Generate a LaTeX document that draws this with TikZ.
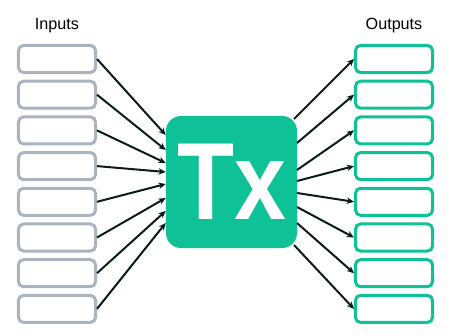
\documentclass[tikz,border=0pt]{standalone}
\usepackage{fontspec}
\setmainfont{Liberation Sans}
\usetikzlibrary{calc, arrows.meta, positioning}

\definecolor{txgreen}{HTML}{0FC196}
\definecolor{boxgray}{HTML}{A9B4BE}
\definecolor{arrowdark}{HTML}{0A1C18}

\tikzset{
  inbox/.style={draw=boxgray, line width=0.075cm, rounded corners=0.125cm,
    minimum width=1.925cm, minimum height=0.675cm, inner sep=0pt},
  outbox/.style={inbox, draw=txgreen},
  txbox/.style={fill=txgreen, rounded corners=0.375cm,
    minimum width=3.275cm, minimum height=3.3cm, inner sep=0pt,
    text=white, font=\fontsize{78}{78}\selectfont\bfseries},
  flow/.style={draw=arrowdark, line width=0.05cm, -{Stealth[length=0.18cm, width=0.16cm]}},
  head/.style={font=\fontsize{11.5}{13}\selectfont}
}

\begin{document}
\begin{tikzpicture}[x=0.025cm, y=-0.025cm]
      \useasboundingbox (0, 0) rectangle (450, 336);
      % the transaction
      \node[txbox] (tx) at (231.5, 182) {\scalebox{0.85}[1]{Tx}};
      \node[head] (inlabel) at (57, 25.5) {Inputs};
      \node[head] (outlabel) at (394, 25.5) {Outputs};
      % boxes on both sides
      \foreach \i in {1,...,8} {
        \node[inbox] (in\i) at (57, {59 + 35.7*(\i-1)}) {};
        \node[outbox] (out\i) at (394, {59 + 35.7*(\i-1)}) {};
      }
      % inputs into tx
      \foreach \i/\y in {1/135, 2/150, 3/163, 4/172, 5/184, 6/198, 7/211, 8/223} {
        \coordinate (tin\i) at (tx.west |- 0,\y);
        \draw[flow] (in\i.east) -- (tin\i);
      }
      % tx into outputs
      \foreach \i/\x/\y in {1/294/119, 2/297/143, 3/297/170, 4/297/181, 5/297/193, 6/297/207, 7/297/223, 8/294/245} {
        \coordinate (tout\i) at (\x, \y);
        \draw[flow] (tout\i) -- (out\i.west);
      }
\end{tikzpicture}
\end{document}
